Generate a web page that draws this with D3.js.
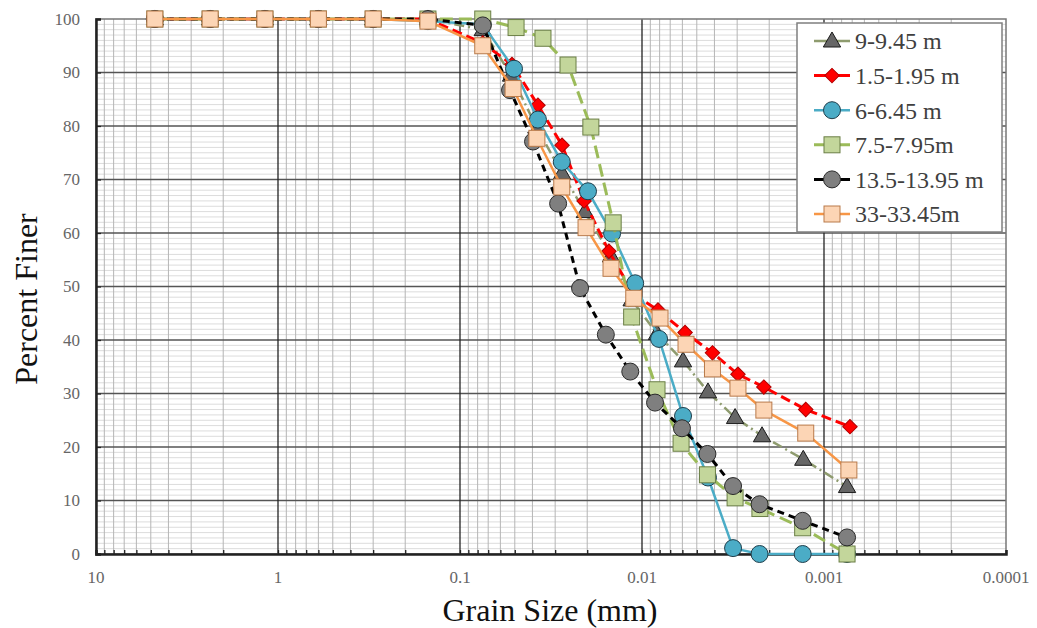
<!DOCTYPE html>
<html>
<head>
<meta charset="utf-8">
<script src="https://cdn.jsdelivr.net/npm/d3@7"></script>
<style>
  body { margin: 0; background: #fff; }
  svg { display: block; }
  text { font-family: "Liberation Serif", "Times New Roman", serif; }
</style>
</head>
<body>
<svg id="chart" width="1037" height="628"></svg>
<script>
// grain size distribution, sieve + hydrometer
const seriesNames = ["9-9.45 m", "1.5-1.95 m", "6-6.45 m", "7.5-7.95m", "13.5-13.95 m", "33-33.45m"];
const sieveSizes = [4.75, 2.36, 1.18, 0.6, 0.3, 0.15, 0.075];

const sizes_9 = [0.0524, 0.0376, 0.0275, 0.0206, 0.0148, 0.0114, 0.00827, 0.00595, 0.00434, 0.00308, 0.00219, 0.0013, 0.000747];
const finer_9 = [100, 100, 100, 100, 100, 100, 98, 89.5, 79.5, 71.2, 64.0, 55.7, 47.5, 41.2, 36.1, 30.3, 25.5, 22.1, 17.7, 12.6];

const sizes_1_5 = [0.0518, 0.0373, 0.0275, 0.0208, 0.0152, 0.0111, 0.00817, 0.0058, 0.0041, 0.00297, 0.00214, 0.00126, 0.00072];
const finer_1_5 = [100, 100, 100, 100, 100, 100, 95.5, 91.5, 83.9, 76.4, 66.0, 56.6, 48.5, 45.6, 41.4, 37.6, 33.6, 31.2, 27.0, 23.8];

const sizes_6 = [0.0505, 0.0373, 0.0276, 0.0198, 0.0146, 0.0109, 0.00806, 0.00595, 0.00434, 0.00316, 0.00226, 0.00131, 0.000747];
const finer_6 = [100, 100, 100, 100, 100, 99.6, 99, 90.7, 81.2, 73.3, 67.8, 59.9, 50.6, 40.2, 25.8, 14.3, 1.1, 0, 0, 0];

const sizes_7_5 = [0.0492, 0.035, 0.0255, 0.0191, 0.0144, 0.0114, 0.00827, 0.0061, 0.00437, 0.00308, 0.00225, 0.00131, 0.000747];
const finer_7_5 = [100, 100, 100, 100, 100, 100, 100, 98.4, 96.4, 91.4, 79.8, 61.9, 44.3, 30.7, 20.7, 14.8, 10.5, 8.5, 4.9, 0];

const sizes_13_5 = [0.0531, 0.0397, 0.0289, 0.0219, 0.0158, 0.0116, 0.00848, 0.00603, 0.00437, 0.00316, 0.00226, 0.00131, 0.000747];
const finer_13_5 = [100, 100, 100, 100, 100, 100, 98.8, 86.7, 77.1, 65.5, 49.7, 41.0, 34.1, 28.3, 23.5, 18.7, 12.7, 9.3, 6.2, 3.1];

const sizes_33 = [0.0511, 0.0378, 0.0276, 0.0203, 0.0148, 0.0111, 0.00796, 0.00573, 0.0041, 0.00297, 0.00214, 0.00126, 0.00073];
const finer_33 = [100, 100, 100, 100, 100, 99.6, 95.0, 87.0, 77.7, 68.6, 61.0, 53.4, 47.8, 44.1, 39.2, 34.6, 31.0, 26.9, 22.6, 15.7];

const yTicks = [0, 10, 20, 30, 40, 50, 60, 70, 80, 90, 100];
const xTickLabels = ["10", "1", "0.1", "0.01", "0.001", "0.0001"];

const styles = [
  { line: "#8e9b6e", dash: "10,4,2,4", width: 2.5, shape: "triangle", fill: "#666666", stroke: "#1a1a1a" },
  { line: "#ff0000", dash: "10,5", width: 3, shape: "diamond", fill: "#ff0000", stroke: "#b00000" },
  { line: "#4bacc6", dash: null, width: 2.5, shape: "circle", fill: "#4bacc6", stroke: "#203f4c" },
  { line: "#9bbb59", dash: "13,6", width: 3, shape: "square", fill: "#c3d69b", stroke: "#6b7f46" },
  { line: "#000000", dash: "7,5", width: 3, shape: "circle", fill: "#7f7f7f", stroke: "#2a2a2a" },
  { line: "#f79646", dash: null, width: 2.5, shape: "square", fill: "#fcd5b5", stroke: "#b97a4a" }
];

const allSizes = [sizes_9, sizes_1_5, sizes_6, sizes_7_5, sizes_13_5, sizes_33];
const allFiner = [finer_9, finer_1_5, finer_6, finer_7_5, finer_13_5, finer_33];

const series = seriesNames.map((name, i) => {
  const d = sieveSizes.concat(allSizes[i]);
  return { name: name, style: styles[i], points: d.map((s, j) => ({ size: s, finer: allFiner[i][j] })) };
});

const svg = d3.select("#chart");
const plotL = 96, plotR = 1006, plotT = 19, plotB = 554;

const x = d3.scaleLog().domain([10, 0.0001]).range([plotL, plotR]);
const y = d3.scaleLinear().domain([0, 100]).range([plotB, plotT]);

// grid
const xAll = x.ticks();
const isMajor = v => Math.abs(Math.log10(v) - Math.round(Math.log10(v))) < 1e-6;
const grid = svg.append("g");

grid.selectAll(".hmin").data(d3.range(0, 101, 1).filter(v => v % 10 !== 0)).enter().append("line")
  .attr("x1", plotL).attr("x2", plotR)
  .attr("y1", d => y(d)).attr("y2", d => y(d))
  .attr("stroke", "#dcdcdc").attr("stroke-width", 1);

grid.selectAll(".vmin").data(xAll.filter(v => !isMajor(v))).enter().append("line")
  .attr("x1", d => x(d)).attr("x2", d => x(d))
  .attr("y1", plotT).attr("y2", plotB)
  .attr("stroke", "#b5b5b5").attr("stroke-width", 1);

grid.selectAll(".hmaj").data(yTicks.slice(1, -1)).enter().append("line")
  .attr("x1", plotL).attr("x2", plotR)
  .attr("y1", d => y(d)).attr("y2", d => y(d))
  .attr("stroke", "#555").attr("stroke-width", 1.3);

grid.selectAll(".vmaj").data(xAll.filter(isMajor).slice(1, -1)).enter().append("line")
  .attr("x1", d => x(d)).attr("x2", d => x(d))
  .attr("y1", plotT).attr("y2", plotB)
  .attr("stroke", "#222").attr("stroke-width", 1.3);

// frame
svg.append("rect").attr("x", plotL).attr("y", plotT).attr("width", plotR - plotL).attr("height", plotB - plotT)
  .attr("fill", "none").attr("stroke", "#777").attr("stroke-width", 1.5);

// axes
const xAxis = svg.append("g").attr("transform", `translate(0,${plotB})`)
  .call(d3.axisBottom(x).tickValues(xAll).tickSize(-4).tickFormat(""));
xAxis.select(".domain").attr("stroke", "#222").attr("stroke-width", 2.5);
xAxis.selectAll(".tick line").attr("stroke", "#222").attr("stroke-width", 1.3);

const yAxis = svg.append("g").attr("transform", `translate(${plotL},0)`)
  .call(d3.axisLeft(y).tickValues(yTicks).tickSize(-5).tickFormat(""));
yAxis.select(".domain").attr("stroke", "#222").attr("stroke-width", 2.5);
yAxis.selectAll(".tick line").attr("stroke", "#222").attr("stroke-width", 1.3);

svg.append("g").selectAll("text").data(yTicks).enter().append("text")
  .attr("x", 80).attr("y", d => y(d)).attr("dy", "0.35em")
  .attr("text-anchor", "end").attr("font-size", 17).attr("fill", "#666")
  .text(d => d);

svg.append("g").selectAll("text").data(xTickLabels).enter().append("text")
  .attr("x", d => x(+d)).attr("y", 583)
  .attr("text-anchor", "middle").attr("font-size", 17).attr("fill", "#666")
  .text(d => d);

svg.append("text").attr("x", 550).attr("y", 621).attr("text-anchor", "middle")
  .attr("font-size", 32).attr("fill", "#111").text("Grain Size (mm)");

svg.append("text").attr("transform", "translate(37,299) rotate(-90)").attr("text-anchor", "middle")
  .attr("font-size", 32).attr("fill", "#111").text("Percent Finer");

// markers
function marker(sel, st) {
  if (st.shape === "circle") {
    sel.append("circle").attr("r", 8.5);
  } else if (st.shape === "square") {
    sel.append("rect").attr("x", -8).attr("y", -8).attr("width", 16).attr("height", 16);
  } else if (st.shape === "triangle") {
    sel.append("path").attr("d", d3.symbol().type(d3.symbolTriangle).size(130)()).attr("transform", "translate(0,1)");
  } else {
    sel.append("path").attr("d", d3.symbol().type(d3.symbolSquare).size(105)()).attr("transform", "rotate(45)");
  }
  sel.selectAll("*").attr("fill", st.fill).attr("stroke", st.stroke).attr("stroke-width", 1);
}

const line = d3.line().x(d => x(d.size)).y(d => y(d.finer));

series.forEach(s => {
  const g = svg.append("g");
  g.append("path").datum(s.points).attr("d", line)
    .attr("fill", "none").attr("stroke", s.style.line).attr("stroke-width", s.style.width)
    .attr("stroke-dasharray", s.style.dash).attr("stroke-linejoin", "round");
  g.selectAll(".m").data(s.points).enter().append("g")
    .attr("transform", d => `translate(${x(d.size)},${y(d.finer)})`)
    .each(function () { marker(d3.select(this), s.style); });
});

// legend
const lg = svg.append("g");
lg.append("rect").attr("x", 797).attr("y", 23).attr("width", 205).attr("height", 209)
  .attr("fill", "#fff").attr("stroke", "#7f7f7f").attr("stroke-width", 1.5);

const rowY = d3.scalePoint().domain(seriesNames).range([41, 214]);
series.forEach(s => {
  const cy = rowY(s.name);
  lg.append("line").attr("x1", 814).attr("x2", 850).attr("y1", cy).attr("y2", cy)
    .attr("stroke", s.style.line).attr("stroke-width", s.style.width);
  const m = lg.append("g").attr("transform", `translate(832,${cy})`);
  marker(m, s.style);
  lg.append("text").attr("x", 855).attr("y", cy).attr("dy", "0.35em")
    .attr("font-size", 24).attr("fill", "#404040").text(s.name);
});
</script>
</body>
</html>
